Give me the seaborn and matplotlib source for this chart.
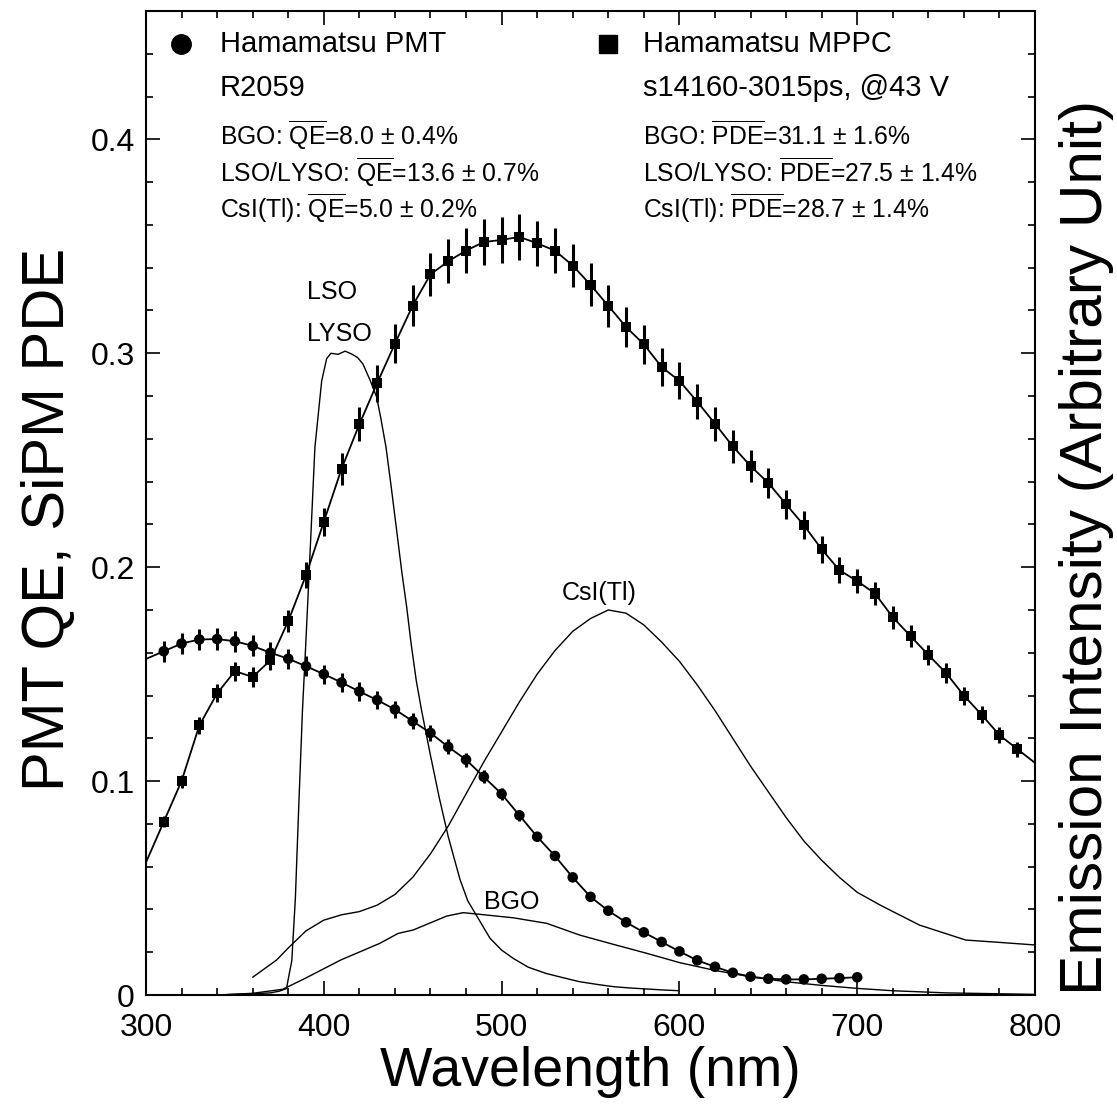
import numpy as np
import pandas as pd
import matplotlib as mpl
import matplotlib.pyplot as plt
import seaborn as sns
mpl.use('agg')

# PMT QE (circles) and MPPC PDE (squares)
pmt_wl = list(range(310, 701, 10))
pmt_qe = [0.1607, 0.1643, 0.1662, 0.1664, 0.1654, 0.1632, 0.1600, 0.1572, 0.1537, 0.1500,
          0.1461, 0.1419, 0.1379, 0.1335, 0.1280, 0.1225, 0.1160, 0.1100, 0.1020, 0.0940,
          0.0840, 0.0740, 0.0650, 0.0550, 0.0459, 0.0394, 0.0340, 0.0293, 0.0248, 0.0204,
          0.0162, 0.0132, 0.0104, 0.0086, 0.0076, 0.0073, 0.0073, 0.0076, 0.0079, 0.0083]
pmt_err = [0.0048, 0.0049, 0.0050, 0.0050, 0.0050, 0.0049, 0.0048, 0.0047, 0.0046, 0.0045,
           0.0044, 0.0043, 0.0041, 0.0040, 0.0038, 0.0037, 0.0035, 0.0033, 0.0031, 0.0028,
           0.0025, 0.0022, 0.0020, 0.0017, 0.0014, 0.0012, 0.0010, 0.0009, 0.0007, 0.0006,
           0.0005, 0.0004, 0.0003, 0.0003, 0.0002, 0.0002, 0.0002, 0.0002, 0.0002, 0.0002]

sipm_wl = list(range(310, 791, 10))
sipm_pde = [0.0810, 0.1000, 0.1260, 0.1410, 0.1514, 0.1487, 0.1565, 0.1748, 0.1963, 0.2212,
            0.2460, 0.2668, 0.2860, 0.3045, 0.3223, 0.3369, 0.3430, 0.3480, 0.3520, 0.3530,
            0.3544, 0.3514, 0.3480, 0.3410, 0.3320, 0.3222, 0.3123, 0.3042, 0.2936, 0.2871,
            0.2774, 0.2671, 0.2565, 0.2473, 0.2394, 0.2294, 0.2196, 0.2084, 0.1986, 0.1935,
            0.1877, 0.1766, 0.1678, 0.1590, 0.1505, 0.1400, 0.1310, 0.1215, 0.1150]
sipm_err = [0.0025, 0.0030, 0.0038, 0.0042, 0.0045, 0.0045, 0.0047, 0.0052, 0.0059, 0.0066,
            0.0074, 0.0080, 0.0086, 0.0091, 0.0097, 0.0101, 0.0103, 0.0104, 0.0106, 0.0106,
            0.0106, 0.0105, 0.0104, 0.0102, 0.0100, 0.0097, 0.0094, 0.0091, 0.0088, 0.0086,
            0.0083, 0.0080, 0.0077, 0.0074, 0.0072, 0.0069, 0.0066, 0.0063, 0.0060, 0.0058,
            0.0056, 0.0053, 0.0050, 0.0048, 0.0045, 0.0042, 0.0039, 0.0036, 0.0035]

# emission spectra (arbitrary units, same scale)
lso_wl = [340, 350, 360, 370, 375, 379, 380.6, 382, 384, 386, 388, 389.8, 392, 395, 398.8,
          401.6, 404, 408, 412, 416, 419, 422, 426, 429.7, 432, 435, 438, 441, 444, 446.6,
          449, 452, 455, 460, 465, 470, 476.6, 481, 486, 493.5, 500, 506.6, 515, 525, 535,
          544, 555, 563, 572, 582, 590, 600]
lso_em = [0.0, 0.0003, 0.0006, 0.001, 0.0018, 0.003, 0.010, 0.016, 0.045, 0.090, 0.133, 0.163,
          0.2017, 0.256, 0.287, 0.2975, 0.300, 0.2995, 0.301, 0.2995, 0.298, 0.295, 0.2875,
          0.2796, 0.270, 0.256, 0.237, 0.217, 0.197, 0.1815, 0.165, 0.147, 0.133, 0.112,
          0.092, 0.074, 0.054, 0.044, 0.037, 0.0265, 0.021, 0.0171, 0.013, 0.0101, 0.008,
          0.0062, 0.0048, 0.0039, 0.0033, 0.0028, 0.0024, 0.002]

csi_wl = [360, 373.5, 380, 390, 400, 410, 420, 430, 440, 450, 460, 470, 480, 490, 500, 510,
          520, 530, 540, 550, 560, 570, 580, 590, 600, 610, 620, 630, 640, 650, 660, 670,
          680, 690, 700, 713, 735, 761, 780, 800]
csi_em = [0.0083, 0.0164, 0.022, 0.030, 0.035, 0.0375, 0.039, 0.042, 0.047, 0.055, 0.066,
          0.079, 0.094, 0.109, 0.123, 0.137, 0.150, 0.161, 0.170, 0.176, 0.1800, 0.1785,
          0.173, 0.165, 0.156, 0.145, 0.133, 0.120, 0.107, 0.095, 0.083, 0.072, 0.063,
          0.055, 0.048, 0.042, 0.0327, 0.0257, 0.0246, 0.0234]

bgo_wl = [340, 360, 377, 390, 409.6, 431.6, 441.8, 450.3, 469.1, 478.4, 487.9, 506.6, 525.4,
          544, 562.8, 581.6, 600.3, 620, 640, 660, 680, 700, 720, 750, 800]
bgo_em = [0.0, 0.0008, 0.0027, 0.008, 0.0164, 0.0242, 0.0288, 0.0304, 0.0369, 0.0385, 0.0377,
          0.0361, 0.0335, 0.028, 0.0237, 0.0195, 0.0151, 0.0115, 0.0085, 0.0062, 0.0045,
          0.0031, 0.002, 0.001, 0.0003]

sns.set_style('ticks')
plt.rcParams['font.family'] = ['Liberation Sans', 'DejaVu Sans']
plt.rcParams['mathtext.fontset'] = 'custom'
plt.rcParams['mathtext.rm'] = 'Liberation Sans'
plt.rcParams['mathtext.it'] = 'Liberation Sans:italic'
for k in ['text.color', 'axes.labelcolor', 'xtick.color', 'ytick.color', 'axes.edgecolor']:
    plt.rcParams[k] = 'black'

fig = plt.figure(figsize=(11.17, 11.12), dpi=100)
ax = fig.add_axes([0.1307, 0.1052, 0.7959, 0.8849])

# emission spectra
for wl, em in [(lso_wl, lso_em), (csi_wl, csi_em), (bgo_wl, bgo_em)]:
    sns.lineplot(x=wl, y=em, ax=ax, color='black', lw=1.0, estimator=None, sort=False)


def extended(wl, val, left=True, right=True):
    # straight continuation of the curve to the frame edges
    wl = list(wl); val = list(val)
    if left:
        wl = [300] + wl
        val = [val[0] - (val[1] - val[0]) * (wl[1] - 300) / (wl[2] - wl[1])] + val
    if right:
        wl = wl + [800]
        val = val + [val[-1] + (val[-1] - val[-2]) * (800 - wl[-2]) / (wl[-2] - wl[-3])]
    return wl, val


x1, y1 = extended(pmt_wl, pmt_qe, right=False)
x2, y2 = extended(sipm_wl, sipm_pde)
sns.lineplot(x=x1, y=y1, ax=ax, color='black', lw=1.3, estimator=None, sort=False)
sns.lineplot(x=x2, y=y2, ax=ax, color='black', lw=1.3, estimator=None, sort=False)

ax.errorbar(pmt_wl, pmt_qe, yerr=pmt_err, fmt='none', ecolor='black', elinewidth=2.2, capsize=0)
ax.errorbar(sipm_wl, sipm_pde, yerr=sipm_err, fmt='none', ecolor='black', elinewidth=2.2, capsize=0)
sns.scatterplot(x=pmt_wl, y=pmt_qe, ax=ax, marker='o', s=58, color='black', edgecolor='none', zorder=5)
sns.scatterplot(x=sipm_wl, y=sipm_pde, ax=ax, marker='s', s=52, color='black', edgecolor='none', zorder=5)

ax.set_xlim(300, 800)
ax.set_ylim(0, 0.46)
ax.set_xticks([300, 400, 500, 600, 700, 800])
ax.set_xticklabels(['300', '400', '500', '600', '700', '800'])
ax.set_yticks([0, 0.1, 0.2, 0.3, 0.4])
ax.set_yticklabels(['0', '0.1', '0.2', '0.3', '0.4'])
ax.set_xticks(np.arange(300, 801, 20), minor=True)
ax.set_yticks(np.arange(0, 0.461, 0.02), minor=True)
ax.tick_params(which='both', direction='in', top=True, right=True, labelsize=23, width=1.2)
ax.tick_params(axis='x', pad=13)
ax.tick_params(axis='y', pad=8)
ax.tick_params(which='major', length=10)
ax.tick_params(which='minor', length=5)
for sp in ax.spines.values():
    sp.set_linewidth(1.5)

ax.set_xlabel('Wavelength (nm)', fontsize=40, labelpad=2)
ax.text(-0.110, 0.483, 'PMT QE, SiPM PDE', transform=ax.transAxes,
        rotation=90, fontsize=43, ha='center', va='center')
ax.text(1.058, 0.455, 'Emission Intensity (Arbitrary Unit)', transform=ax.transAxes,
        rotation=90, fontsize=43.5, ha='center', va='center')

# legend block, left column
ax.plot([319.7], [0.4444], 'o', color='black', ms=14, clip_on=False)
ax.text(341.6, 0.4444, 'Hamamatsu PMT', fontsize=21, va='center')
ax.text(341.6, 0.4238, 'R2059', fontsize=21, va='center')
ax.text(341.6, 0.4019, r'BGO: $\overline{\mathrm{QE}}$=8.0 ± 0.4%', fontsize=17.8, va='center')
ax.text(341.6, 0.3846, r'LSO/LYSO: $\overline{\mathrm{QE}}$=13.6 ± 0.7%', fontsize=17.8, va='center')
ax.text(341.6, 0.3678, r'CsI(Tl): $\overline{\mathrm{QE}}$=5.0 ± 0.2%', fontsize=17.8, va='center')

# right column
ax.plot([559.8], [0.4444], 's', color='black', ms=13)
ax.text(579.5, 0.4444, 'Hamamatsu MPPC', fontsize=21, va='center')
ax.text(579.5, 0.4238, 's14160-3015ps, @43 V', fontsize=21, va='center')
ax.text(579.5, 0.4019, r'BGO: $\overline{\mathrm{PDE}}$=31.1 ± 1.6%', fontsize=17.8, va='center')
ax.text(579.5, 0.3846, r'LSO/LYSO: $\overline{\mathrm{PDE}}$=27.5 ± 1.4%', fontsize=17.8, va='center')
ax.text(579.5, 0.3678, r'CsI(Tl): $\overline{\mathrm{PDE}}$=28.7 ± 1.4%', fontsize=17.8, va='center')

# curve labels
ax.text(390.4, 0.3287, 'LSO', fontsize=18, va='center')
ax.text(390.4, 0.3090, 'LYSO', fontsize=18, va='center')
ax.text(555, 0.188, 'CsI(Tl)', fontsize=18, va='center', ha='center')
ax.text(505.8, 0.0436, 'BGO', fontsize=18, va='center', ha='center')

plt.savefig('out.png', dpi=100)
